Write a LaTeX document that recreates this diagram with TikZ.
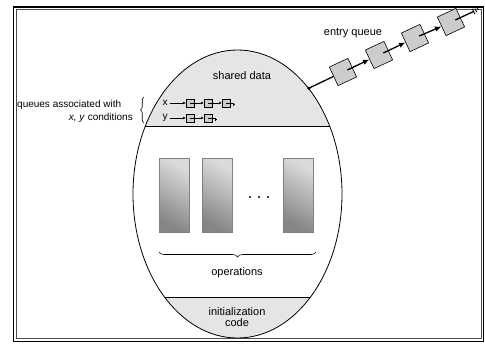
\documentclass[tikz,border=0pt]{standalone}
\usepackage{fontspec}
\setmainfont{Liberation Sans}
\usetikzlibrary{shapes.geometric,arrows.meta,decorations.pathreplacing,calc}
\definecolor{sharedgray}{gray}{0.9}
\definecolor{boxgray}{gray}{0.8}
\definecolor{oplight}{gray}{0.86}
\definecolor{opdark}{gray}{0.52}
\begin{document}
\begin{tikzpicture}[x=1pt,y=-1pt,
  lbl/.style={font=\fontsize{11}{11.5}\selectfont, inner sep=0pt},
  side/.style={font=\fontsize{10}{12}\selectfont, inner sep=0pt},
  qbox/.style={draw, fill=boxgray, minimum size=20.5pt, inner sep=0pt, rotate=25, line width=0.6pt},
  mbox/.style={draw, fill=boxgray, minimum size=7.5pt, inner sep=0pt, line width=0.5pt},
  ptr/.style={line width=1.3pt, -{Latex[length=6.5pt,width=5.5pt]}},
  chain/.style={line width=1.3pt},
  mptr/.style={line width=0.6pt, -{Latex[length=3pt,width=2.8pt]}},
  oprect/.style={draw=gray, line width=0.5pt, minimum width=30pt, minimum height=74pt, inner sep=0pt,
     top color=oplight, bottom color=opdark, shading angle=-30},
  brc/.style={decorate, line width=0.6pt}
]
\useasboundingbox (0,0) rectangle (485,343);
% frame
\draw[line width=1.6pt] (13.5,6.8) rectangle (483.5,341.3);
\draw[line width=0.7pt, gray!60!black] (16,9.3) rectangle (481.3,338.8);

% monitor regions
\begin{scope}
  \clip (237.5,194) ellipse [x radius=104.5, y radius=144];
  \fill[white] (130,40) rectangle (350,345);
  \fill[sharedgray] (130,40) rectangle (350,126);
  \fill[sharedgray] (130,297) rectangle (350,345);
  \draw[line width=0.8pt] (130,126) -- (350,126);
  \draw[line width=0.8pt] (130,297) -- (350,297);
\end{scope}
\node[draw, ellipse, minimum width=209pt, minimum height=288pt, inner sep=0pt, line width=0.8pt] (mon) at (237.5,194) {};

% texts
\node[lbl] (sd) at (242,76) {shared data};
\node[lbl] (eq) at (353,33) {entry queue};
\node[lbl] (ops) at (237,273) {operations};
\node[lbl, align=center] (init) at (237,317) {initialization\\code};
\node[side, anchor=west] (q1) at (17,105) {queues associated with};
\node[side, anchor=east] (q2) at (133,118) {\textit{x, y} conditions};
\draw[brc, decoration={brace, amplitude=3.5pt}] (144,123) -- (144,97);

% condition queues
\node[side] (xl) at (165,103) {x};
\node[mbox] (x1) at (190,103) {};
\node[mbox] (x2) at (208,103) {};
\node[mbox] (x3) at (226,103) {};
\draw[mptr] ([xshift=2pt]xl.east) -- (x1.west);
\draw[mptr] (x1.center) -- (x2.west);
\draw[mptr] (x2.center) -- (x3.west);
\draw[line width=0.6pt] (x3.center) -- ++(7,0) coordinate (xg);
\draw[line width=0.5pt] ($(xg)+(0,-0.5)$) -- ++(0,3);
\draw[line width=0.5pt] ($(xg)+(1.2,0.5)$) -- ++(0,1.5);

\node[side] (yl) at (165,118) {y};
\node[mbox] (y1) at (190,118) {};
\node[mbox] (y2) at (208,118) {};
\draw[mptr] ([xshift=2pt]yl.east) -- (y1.west);
\draw[mptr] (y1.center) -- (y2.west);
\draw[line width=0.6pt] (y2.center) -- ++(7,0) coordinate (yg);
\draw[line width=0.5pt] ($(yg)+(0,-0.5)$) -- ++(0,3);
\draw[line width=0.5pt] ($(yg)+(1.2,0.5)$) -- ++(0,1.5);

% operations
\node[oprect] (o1) at (174,195) {};
\node[oprect] (o2) at (217,195) {};
\node[oprect] (o3) at (298.5,195) {};
\fill (250,197) circle (1.2) (259,197) circle (1.2) (268,197) circle (1.2);
\draw[brc, decoration={brace, amplitude=5pt}] (316,252) -- (159,252);

% entry queue
\coordinate (ep) at (mon.56);
\fill (ep) circle (1.8);
\node[qbox] (b1) at (343,72) {};
\node[qbox] (b2) at (379,55) {};
\node[qbox] (b3) at (415,38) {};
\node[qbox] (b4) at (451,22) {};
\draw[chain] (ep) -- (b1.west);
\draw[ptr] ($(b1.center)!0.45!(b1.east)$) -- (b2.west);
\draw[ptr] ($(b2.center)!0.45!(b2.east)$) -- (b3.west);
\draw[ptr] ($(b3.center)!0.45!(b3.east)$) -- (b4.west);
\coordinate (eg) at (473.6,11.5);
\draw[chain] ($(b4.center)!0.45!(b4.east)$) -- (eg);
\draw[line width=0.9pt] (474.9,14.2) -- (472.3,8.8);
\draw[line width=0.9pt] (476.6,12.2) -- (474.9,8.6);
\draw[line width=0.9pt] (478.2,10.0) -- (477.4,8.2);
\end{tikzpicture}
\end{document}
